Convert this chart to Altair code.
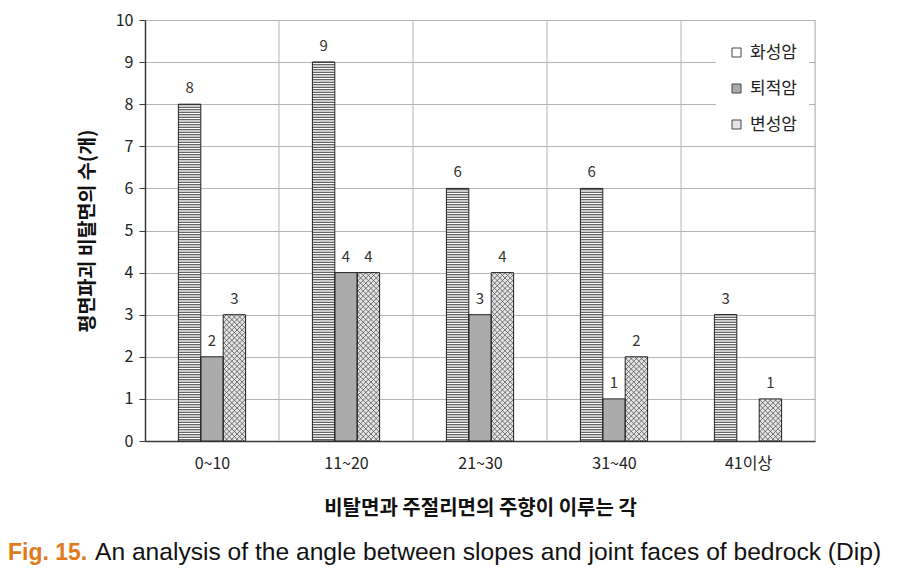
import altair as alt
import pandas as pd

# ---------------- data ----------------
categories = ["0~10", "11~20", "21~30", "31~40", "41이상"]
series = ["화성암", "퇴적암", "변성암"]
igneous = [8, 9, 6, 6, 3]
sedimentary = [2, 4, 3, 1, 0]
metamorphic = [3, 4, 4, 2, 1]
y_ticks = list(range(0, 11))

x_title = "비탈면과 주절리면의 주향이 이루는 각"
y_title = "평면파괴 비탈면의 수(개)"
caption_label = "Fig. 15."
caption_text = "An analysis of the angle between slopes and joint faces of bedrock (Dip)"

# ---------------- layout / style ----------------
TOP = 12
W, H = 670, 421
YMAX = 10
ppx = W / len(categories)          # pixels per x unit
ppy = H / YMAX                     # pixels per y unit
BAR_PX = 22.4
bw = BAR_PX / ppx                  # bar width in x units
d = BAR_PX / ppy                   # 45deg rise across a bar, in y units
stripe_step = 2.5 / ppy
hatch_step = 5.2 / ppy

KFONT = "Noto Sans CJK KR"
GRID = "#b5b5b5"
DARK = "#3a3a3a"

rows = []
for i, c in enumerate(categories):
    for k, (s, vals) in enumerate(zip(series, [igneous, sedimentary, metamorphic])):
        rows.append({"cat": c, "idx": i, "series": s, "sidx": k, "value": vals[i]})
df = pd.DataFrame(rows)
bounds = pd.DataFrame({"b": list(range(1, len(categories) + 1))})

label_expr = "[" + ",".join("'%s'" % c for c in categories) + "][floor(datum.value)]"

X_AX = alt.Axis(values=[i + 0.5 for i in range(len(categories))], labelExpr=label_expr,
                grid=False, ticks=False, domainColor=DARK, domainWidth=1.5,
                labelFont=KFONT, labelFontSize=16, labelColor="#222", labelPadding=14,
                title=x_title, titleFont=KFONT, titleFontSize=20, titleFontWeight="bold",
                titleColor="#111", titlePadding=27)
Y_AX = alt.Axis(values=y_ticks, grid=True, gridColor=GRID, gridWidth=1,
                domainColor=DARK, domainWidth=1.5, tickColor=DARK, tickSize=6,
                labelFont=KFONT, labelFontSize=16, labelColor="#222", labelPadding=6,
                title=y_title, titleFont=KFONT, titleFontSize=19.5, titleFontWeight="bold",
                titleColor="#111", titlePadding=18)
XS = alt.Scale(domain=[0, len(categories)], nice=False, zero=False)
YS = alt.Scale(domain=[0, YMAX], nice=False)

base = alt.Chart(df).transform_filter("datum.value > 0").transform_calculate(
    x0=f"datum.idx + 0.5 + (datum.sidx - 1.5) * {bw}",
    x1=f"datum.x0 + {bw}",
    xm=f"datum.x0 + {bw} / 2",
)

# vertical category separators (+ right border)
vgrid = alt.Chart(bounds).mark_rule(color=GRID, strokeWidth=1).encode(
    x=alt.X("b:Q", scale=XS, axis=X_AX),
)

# y axis + horizontal grid, via an invisible layer
yaxis_layer = alt.Chart(pd.DataFrame({"v": y_ticks})).mark_point(opacity=0).encode(
    x=alt.value(0),
    y=alt.Y("v:Q", scale=YS, axis=Y_AX),
)

bars = base.mark_rect(strokeWidth=0).encode(
    x=alt.X("x0:Q", scale=XS, axis=X_AX),
    x2="x1:Q",
    y=alt.Y("value:Q", scale=YS, axis=Y_AX),
    y2=alt.datum(0),
    fill=alt.Fill("series:N", scale=alt.Scale(domain=series, range=["#ffffff", "#ababab", "#e4e4e4"]),
                  legend=alt.Legend(title=None, orient="none", legendX=571, legendY=12,
                                    fillColor="white", padding=12, rowPadding=18,
                                    symbolType="square", symbolSize=81,
                                    symbolStrokeColor="#444", symbolStrokeWidth=1,
                                    labelFont=KFONT, labelFontSize=17, labelColor="#222",
                                    labelOffset=5)),
)

# horizontal stripes for 화성암
stripes = base.transform_filter("datum.sidx == 0").transform_calculate(
    s=f"sequence({stripe_step / 2}, datum.value, {stripe_step})"
).transform_flatten(["s"]).mark_rule(color="#333", strokeWidth=1).encode(
    x=alt.X("x0:Q", scale=XS, axis=X_AX), x2="x1:Q",
    y=alt.Y("s:Q", scale=YS, axis=Y_AX),
)

# cross hatch for 변성암
hbase = base.transform_filter("datum.sidx == 2").transform_calculate(
    c=f"sequence({-d}, datum.value, {hatch_step})"
).transform_flatten(["c"]).transform_calculate(
    ya="max(datum.c, 0)",
    yb=f"min(datum.c + {d}, datum.value)",
).transform_filter("datum.ya < datum.yb")

hatch1 = hbase.transform_calculate(
    xa=f"datum.x0 + (datum.ya - datum.c) / {d} * {bw}",
    xb=f"datum.x0 + (datum.yb - datum.c) / {d} * {bw}",
).mark_rule(color="#555", strokeWidth=0.8).encode(
    x=alt.X("xa:Q", scale=XS, axis=X_AX), x2="xb:Q",
    y=alt.Y("ya:Q", scale=YS, axis=Y_AX), y2="yb:Q",
)
hatch2 = hbase.transform_calculate(
    xa=f"datum.x0 + (datum.c + {d} - datum.ya) / {d} * {bw}",
    xb=f"datum.x0 + (datum.c + {d} - datum.yb) / {d} * {bw}",
).mark_rule(color="#555", strokeWidth=0.8).encode(
    x=alt.X("xa:Q", scale=XS, axis=X_AX), x2="xb:Q",
    y=alt.Y("ya:Q", scale=YS, axis=Y_AX), y2="yb:Q",
)

outline = base.mark_rect(fillOpacity=0, stroke="#222", strokeWidth=1).encode(
    x=alt.X("x0:Q", scale=XS, axis=X_AX), x2="x1:Q",
    y=alt.Y("value:Q", scale=YS, axis=Y_AX), y2=alt.datum(0),
)

labels = base.mark_text(font=KFONT, fontSize=15, color="#333", baseline="alphabetic", dy=-11).encode(
    x=alt.X("xm:Q", scale=XS, axis=X_AX),
    y=alt.Y("value:Q", scale=YS, axis=Y_AX),
    text="value:Q",
)

cap1 = alt.Chart(pd.DataFrame({"t": [caption_label]})).mark_text(
    align="left", baseline="alphabetic", font="Liberation Sans",
    fontSize=23, fontWeight="bold", color="#e07a1a"
).encode(x=alt.value(-137), y=alt.value(540), text="t:N")
cap2 = alt.Chart(pd.DataFrame({"t": [caption_text]})).mark_text(
    align="left", baseline="alphabetic", font="Liberation Sans",
    fontSize=24.6, color="#111"
).encode(x=alt.value(-50), y=alt.value(540), text="t:N")

chart = alt.layer(vgrid, yaxis_layer, bars, stripes, hatch1, hatch2, outline, labels, cap1, cap2).properties(
    width=W, height=H,
    autosize=alt.AutoSizeParams(type="none"),
    padding={"left": 137, "top": TOP, "right": 80, "bottom": 126},
).configure_view(stroke=None).configure(background="white")

chart.save("out.html", embed_options={"renderer": "svg", "actions": False})
